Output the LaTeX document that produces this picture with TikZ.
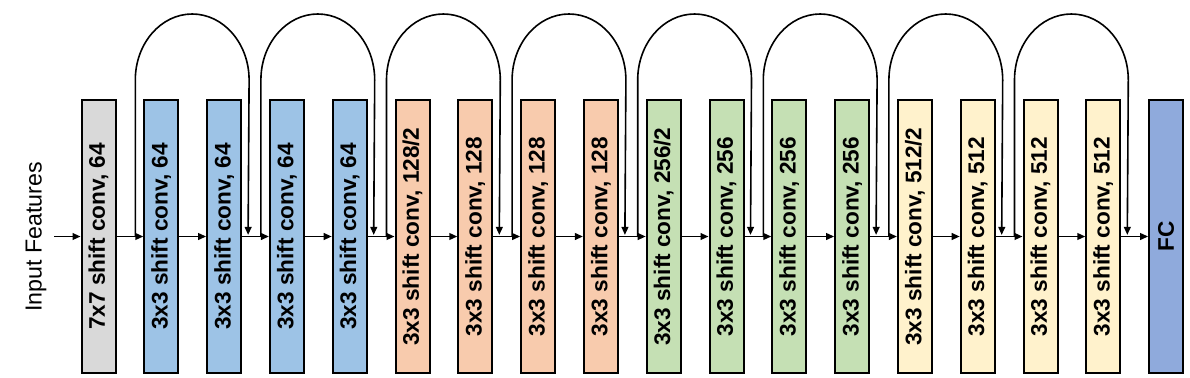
\documentclass[tikz,border=0pt]{standalone}
\usepackage{fontspec}
\setmainfont{Liberation Sans}
\usetikzlibrary{arrows.meta}
\definecolor{convgray}{HTML}{D9D9D9}
\definecolor{convblue}{HTML}{9DC3E6}
\definecolor{convorange}{HTML}{F8CBAD}
\definecolor{convgreen}{HTML}{C5E0B4}
\definecolor{convyellow}{HTML}{FFF2CC}
\definecolor{fcblue}{HTML}{8FAADC}

\begin{document}
\begin{tikzpicture}[x=0.5pt, y=0.5pt,
    block/.style={draw, line width=1pt, rotate=90, minimum width=136.5pt, minimum height=17pt, inner sep=0pt, font=\fontsize{11.3}{13}\selectfont\bfseries},
    link/.style={draw, line width=0.8pt, -{Triangle[length=4pt, width=3.4pt]}},
    skip/.style={link}
]
    \useasboundingbox (0,0) rectangle (1190,377);

    \node[rotate=90, font=\fontsize{11.6}{13}\selectfont] (input) at (36,140) {Input Features};
    \coordinate (in) at (54,140.5);

    \node[block, fill=convgray] (b0) at (98.5,140.5) {7x7 shift conv, 64};
    \node[block, fill=convblue] (b1) at (161.3,140.5) {3x3 shift conv, 64};
    \node[block, fill=convblue] (b2) at (224.1,140.5) {3x3 shift conv, 64};
    \node[block, fill=convblue] (b3) at (286.9,140.5) {3x3 shift conv, 64};
    \node[block, fill=convblue] (b4) at (349.7,140.5) {3x3 shift conv, 64};
    \node[block, fill=convorange] (b5) at (412.5,140.5) {3x3 shift conv, 128/2};
    \node[block, fill=convorange] (b6) at (475.3,140.5) {3x3 shift conv, 128};
    \node[block, fill=convorange] (b7) at (538.1,140.5) {3x3 shift conv, 128};
    \node[block, fill=convorange] (b8) at (600.9,140.5) {3x3 shift conv, 128};
    \node[block, fill=convgreen] (b9) at (663.7,140.5) {3x3 shift conv, 256/2};
    \node[block, fill=convgreen] (b10) at (726.5,140.5) {3x3 shift conv, 256};
    \node[block, fill=convgreen] (b11) at (789.3,140.5) {3x3 shift conv, 256};
    \node[block, fill=convgreen] (b12) at (852.1,140.5) {3x3 shift conv, 256};
    \node[block, fill=convyellow] (b13) at (914.9,140.5) {3x3 shift conv, 512/2};
    \node[block, fill=convyellow] (b14) at (977.7,140.5) {3x3 shift conv, 512};
    \node[block, fill=convyellow] (b15) at (1040.5,140.5) {3x3 shift conv, 512};
    \node[block, fill=convyellow] (b16) at (1103.3,140.5) {3x3 shift conv, 512};
    \node[block, fill=fcblue] (fc) at (1166.1,140.5) {FC};

    % main path
    \draw[link] (in) -- (b0.north);
    \draw[link] (b0.south) -- (b1.north);
    \draw[link] (b1.south) -- (b2.north);
    \draw[link] (b2.south) -- (b3.north);
    \draw[link] (b3.south) -- (b4.north);
    \draw[link] (b4.south) -- (b5.north);
    \draw[link] (b5.south) -- (b6.north);
    \draw[link] (b6.south) -- (b7.north);
    \draw[link] (b7.south) -- (b8.north);
    \draw[link] (b8.south) -- (b9.north);
    \draw[link] (b9.south) -- (b10.north);
    \draw[link] (b10.south) -- (b11.north);
    \draw[link] (b11.south) -- (b12.north);
    \draw[link] (b12.south) -- (b13.north);
    \draw[link] (b13.south) -- (b14.north);
    \draw[link] (b14.south) -- (b15.north);
    \draw[link] (b15.south) -- (b16.north);
    \draw[link] (b16.south) -- (fc.north);

    % shortcuts
    \draw[skip] ([xshift=-4pt]b1.north) -- ++(0,156.5) arc[start angle=180, end angle=0, x radius=56.9, y radius=66] -- ([xshift=3pt, yshift=0.8pt]b2.south);
    \draw[skip] ([xshift=-4pt]b3.north) -- ++(0,156.5) arc[start angle=180, end angle=0, x radius=56.9, y radius=66] -- ([xshift=3pt, yshift=0.8pt]b4.south);
    \draw[skip] ([xshift=-4pt]b5.north) -- ++(0,156.5) arc[start angle=180, end angle=0, x radius=56.9, y radius=66] -- ([xshift=3pt, yshift=0.8pt]b6.south);
    \draw[skip] ([xshift=-4pt]b7.north) -- ++(0,156.5) arc[start angle=180, end angle=0, x radius=56.9, y radius=66] -- ([xshift=3pt, yshift=0.8pt]b8.south);
    \draw[skip] ([xshift=-4pt]b9.north) -- ++(0,156.5) arc[start angle=180, end angle=0, x radius=56.9, y radius=66] -- ([xshift=3pt, yshift=0.8pt]b10.south);
    \draw[skip] ([xshift=-4pt]b11.north) -- ++(0,156.5) arc[start angle=180, end angle=0, x radius=56.9, y radius=66] -- ([xshift=3pt, yshift=0.8pt]b12.south);
    \draw[skip] ([xshift=-4pt]b13.north) -- ++(0,156.5) arc[start angle=180, end angle=0, x radius=56.9, y radius=66] -- ([xshift=3pt, yshift=0.8pt]b14.south);
    \draw[skip] ([xshift=-4pt]b15.north) -- ++(0,156.5) arc[start angle=180, end angle=0, x radius=56.9, y radius=66] -- ([xshift=3pt, yshift=0.8pt]b16.south);
\end{tikzpicture}
\end{document}
